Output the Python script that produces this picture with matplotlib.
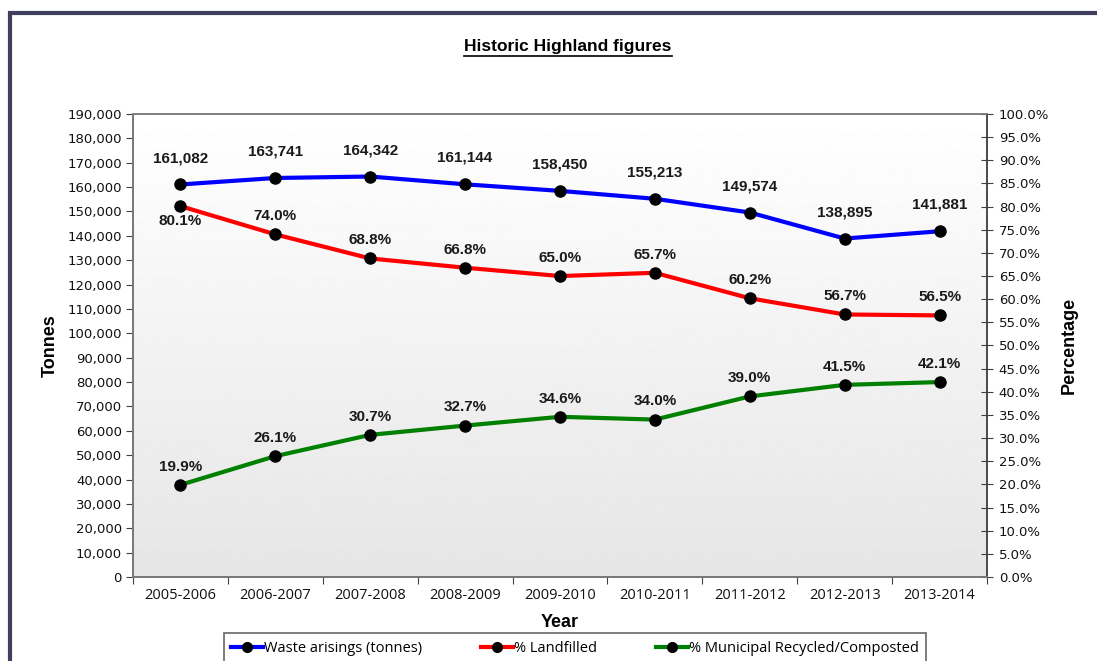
import numpy as np
import matplotlib
matplotlib.use("Agg")
import matplotlib.pyplot as plt
from matplotlib.patches import Rectangle
from matplotlib.lines import Line2D
from matplotlib.ticker import FuncFormatter

### data
years = ["2005-2006", "2006-2007", "2007-2008", "2008-2009", "2009-2010",
         "2010-2011", "2011-2012", "2012-2013", "2013-2014"]
waste_tonnes = [161082, 163741, 164342, 161144, 158450, 155213, 149574, 138895, 141881]
pct_landfilled = [80.1, 74.0, 68.8, 66.8, 65.0, 65.7, 60.2, 56.7, 56.5]
pct_recycled = [19.9, 26.1, 30.7, 32.7, 34.6, 34.0, 39.0, 41.5, 42.1]

W, H = 1097, 661
fig = plt.figure(figsize=(W / 100, H / 100), dpi=100)
fig.patch.set_facecolor("white")

# outer chart frame (cut off right and bottom)
fig.add_artist(Rectangle((10 / W, -0.1), 1.2, 1 - 13 / H + 0.1, transform=fig.transFigure,
                         fill=False, edgecolor="#40405e", linewidth=3))

ax = fig.add_axes([133 / W, 1 - 577 / H, 854 / W, 463 / H])
ax2 = ax.twinx()

x = np.arange(len(years))
ax.set_xlim(-0.5, len(years) - 0.5)
ax.set_ylim(0, 190000)
ax2.set_ylim(0, 100)

# gradient background
grad = np.linspace(1.0, 0.9, 256).reshape(-1, 1)
ax.imshow(grad, extent=[0, 1, 0, 1], transform=ax.transAxes, aspect="auto",
          cmap="gray", vmin=0, vmax=1, zorder=0)

lw, ms = 3, 8
l1, = ax2.plot(x, np.array(waste_tonnes) / 1900, color="#0000ff", lw=lw, marker="o",
               ms=ms, mfc="black", mec="black", zorder=3)
l2, = ax2.plot(x, pct_landfilled, color="#ff0000", lw=lw, marker="o",
               ms=ms, mfc="black", mec="black", zorder=3)
l3, = ax2.plot(x, pct_recycled, color="#008000", lw=lw, marker="o",
               ms=ms, mfc="black", mec="black", zorder=3)

lab_font = dict(family="Liberation Sans", fontsize=11, fontweight="bold", color="#1a1a1a")
for i, v in enumerate(waste_tonnes):
    ax2.annotate(f"{v:,}", (x[i], v / 1900), xytext=(0, 14), textcoords="offset points",
                 ha="center", va="bottom", **lab_font)
for i, v in enumerate(pct_landfilled):
    dy = -6 if i == 0 else 8
    ax2.annotate(f"{v:.1f}%", (x[i], v), xytext=(0, dy), textcoords="offset points",
                 ha="center", va="top" if i == 0 else "bottom", **lab_font)
for i, v in enumerate(pct_recycled):
    ax2.annotate(f"{v:.1f}%", (x[i], v), xytext=(0, 8), textcoords="offset points",
                 ha="center", va="bottom", **lab_font)

# axes styling
for a in (ax, ax2):
    for s in a.spines.values():
        s.set_color("#808080")
        s.set_linewidth(1.2)
ax.spines["left"].set_color("#404040")
ax.spines["bottom"].set_color("#404040")
ax2.spines["right"].set_color("#404040")

ax.set_yticks(np.arange(0, 190001, 10000))
ax.yaxis.set_major_formatter(FuncFormatter(lambda v, p: f"{int(v):,}"))
ax2.set_yticks(np.arange(0, 101, 5))
ax2.yaxis.set_major_formatter(FuncFormatter(lambda v, p: f"{v:.1f}%"))
ax.set_xticks(np.arange(-0.5, len(years), 1), minor=False)
ax.set_xticklabels([])
ax.set_xticks(x, minor=True)
ax.set_xticklabels(years, minor=True, family="Open Sans", fontsize=10.5, color="#111111")
ax.tick_params(axis="x", which="minor", length=0, pad=8)
ax.tick_params(axis="x", which="major", length=5, color="#404040", direction="out")
ax.tick_params(axis="y", length=5, color="#404040", direction="out", pad=3)
ax2.tick_params(axis="y", length=9, color="#404040", direction="inout", pad=4)
for t in ax.get_yticklabels() + ax2.get_yticklabels():
    t.set_family("DejaVu Sans"); t.set_fontsize(9.5); t.set_color("#111111")

ax.set_ylabel("Tonnes", family="Liberation Sans", fontsize=13, fontweight="bold", labelpad=6)
ax2.set_ylabel("Percentage", family="Liberation Sans", fontsize=13, fontweight="bold", labelpad=8)
ax.set_xlabel("Year", family="Liberation Sans", fontsize=13, fontweight="bold", labelpad=8)

# title with underline
title = fig.text(568 / W, 1 - 47 / H, "Historic Highland figures", ha="center", va="center",
                 family="Liberation Sans", fontsize=12.5, fontweight="bold")
fig.canvas.draw()
bb = title.get_window_extent()
uy = (bb.y0 - 1) / H
fig.add_artist(Line2D([bb.x0 / W, bb.x1 / W], [uy, uy], transform=fig.transFigure,
                      color="black", lw=1.2))

leg = fig.legend([l1, l2, l3],
                 ["Waste arisings (tonnes)", "% Landfilled", "% Municipal Recycled/Composted"],
                 loc="upper center", bbox_to_anchor=(575 / W, 1 - 629 / H), ncol=3,
                 frameon=True, fancybox=False, edgecolor="#404040", handlelength=2.2,
                 columnspacing=4.0, handletextpad=0.1, borderpad=0.5, borderaxespad=0.3,
                 prop=dict(family="Open Sans", size=10.5))
leg.get_frame().set_linewidth(1.2)
for h in leg.legend_handles:
    h.set_markersize(7)

fig.savefig("out.png", dpi=100)
